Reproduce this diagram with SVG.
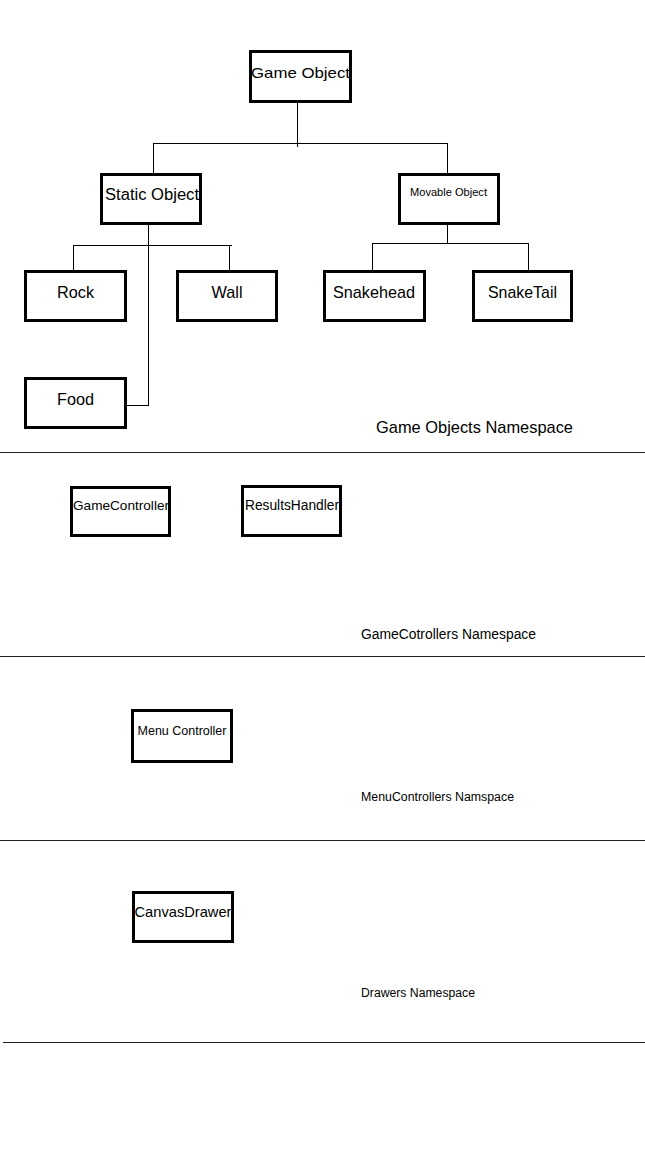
<svg xmlns="http://www.w3.org/2000/svg" width="645" height="1167" viewBox="0 0 645 1167">
<style>
.box{fill:#fff;stroke:#000;stroke-width:3}
.ln{stroke:#000;stroke-width:1;fill:none}
.sep{stroke:#222;stroke-width:1.2;fill:none}
text{font-family:"Liberation Sans",Arial,sans-serif;fill:#000;text-anchor:middle}
.ns{text-anchor:start}
</style>
<rect width="645" height="1167" fill="#fff"/>
<g id="connectors">
<path class="ln" d="M297.5,103 V147 M153,143.5 H448 M153.5,143.5 V174 M447.5,143.5 V174"/>
<path class="ln" d="M148.5,225 V406 M73,245.5 H232 M73.5,245.5 V271 M229.5,245.5 V271 M126,405.5 H149"/>
<path class="ln" d="M447.5,225 V243.5 M372,243.5 H529 M372.5,243.5 V271 M528.5,243.5 V271"/>
</g>
<g id="separators">
<path class="sep" d="M0,452.5 H645 M0,656.5 H645 M0,840.5 H645 M3,1042.5 H645"/>
</g>
<g id="game-object"><rect class="box" x="250.5" y="51.5" width="100" height="50"/><text x="300.5" y="78" font-size="15" textLength="99" lengthAdjust="spacingAndGlyphs">Game Object</text></g>
<g id="static-object"><rect class="box" x="101.5" y="174.5" width="99" height="49"/><text x="152" y="200" font-size="16" textLength="94" lengthAdjust="spacingAndGlyphs">Static Object</text></g>
<g id="movable-object"><rect class="box" x="399.5" y="174.5" width="99" height="49"/><text x="448.5" y="196" font-size="11" textLength="77" lengthAdjust="spacingAndGlyphs">Movable Object</text></g>
<g id="rock"><rect class="box" x="25.5" y="271.5" width="100" height="49"/><text x="75.5" y="298" font-size="17" textLength="37" lengthAdjust="spacingAndGlyphs">Rock</text></g>
<g id="wall"><rect class="box" x="177.5" y="271.5" width="99" height="49"/><text x="227" y="298" font-size="17" textLength="31" lengthAdjust="spacingAndGlyphs">Wall</text></g>
<g id="snakehead"><rect class="box" x="324.5" y="271.5" width="100" height="49"/><text x="374" y="298" font-size="17" textLength="82" lengthAdjust="spacingAndGlyphs">Snakehead</text></g>
<g id="snaketail"><rect class="box" x="473.5" y="271.5" width="98" height="49"/><text x="522.5" y="298" font-size="17" textLength="69" lengthAdjust="spacingAndGlyphs">SnakeTail</text></g>
<g id="food"><rect class="box" x="25.5" y="378.5" width="100" height="49"/><text x="75.5" y="405" font-size="17" textLength="37" lengthAdjust="spacingAndGlyphs">Food</text></g>
<g id="ns-game-objects"><text class="ns" x="376" y="433" font-size="17" textLength="197" lengthAdjust="spacingAndGlyphs">Game Objects Namespace</text></g>
<g id="game-controller"><rect class="box" x="71.5" y="487.5" width="98" height="48"/><text x="121" y="510" font-size="13" textLength="96" lengthAdjust="spacingAndGlyphs">GameController</text></g>
<g id="results-handler"><rect class="box" x="242.5" y="486.5" width="98" height="49"/><text x="292" y="510" font-size="14" textLength="94" lengthAdjust="spacingAndGlyphs">ResultsHandler</text></g>
<g id="ns-game-controllers"><text class="ns" x="361" y="639" font-size="14" textLength="175" lengthAdjust="spacingAndGlyphs">GameCotrollers Namespace</text></g>
<g id="menu-controller"><rect class="box" x="132.5" y="710.5" width="99" height="51"/><text x="182" y="735" font-size="12" textLength="89" lengthAdjust="spacingAndGlyphs">Menu Controller</text></g>
<g id="ns-menu-controllers"><text class="ns" x="361" y="801" font-size="12" textLength="153" lengthAdjust="spacingAndGlyphs">MenuControllers Namspace</text></g>
<g id="canvas-drawer"><rect class="box" x="133.5" y="892.5" width="99" height="49"/><text x="183" y="917" font-size="15" textLength="97" lengthAdjust="spacingAndGlyphs">CanvasDrawer</text></g>
<g id="ns-drawers"><text class="ns" x="361" y="997" font-size="12" textLength="114" lengthAdjust="spacingAndGlyphs">Drawers Namespace</text></g>
</svg>
